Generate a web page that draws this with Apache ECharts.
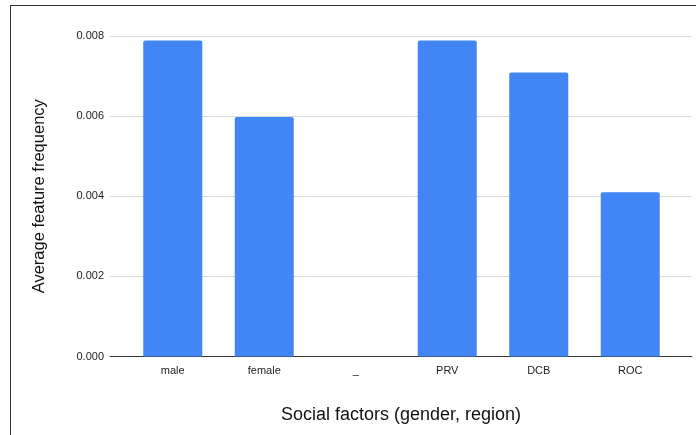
<!DOCTYPE html>
<html>
<head>
<meta charset="utf-8">
<script src="https://cdn.jsdelivr.net/npm/echarts@6/dist/echarts.min.js"></script>
<style>
  html, body { margin: 0; padding: 0; background: #fff; }
  #wrap { position: relative; width: 696px; height: 435px; overflow: hidden; }
  #frame { position: absolute; left: 10px; top: 5px; width: 700px; height: 450px;
           border-left: 1px solid #333; border-top: 1px solid #333; box-sizing: border-box; }
  #chart { position: absolute; left: 0; top: 0; width: 696px; height: 435px; }
</style>
</head>
<body>
<div id="wrap">
  <div id="frame"></div>
  <div id="chart"></div>
</div>
<script>
// Average feature frequency per social factor (gender, then region)
const categories = ['male', 'female', '_', 'PRV', 'DCB', 'ROC'];
const frequencies = [0.00789, 0.00598, null, 0.00789, 0.00709, 0.00410];
const yTicks = [0, 0.002, 0.004, 0.006, 0.008];

const yMin = yTicks[0];
const yMax = yTicks[yTicks.length - 1];
const font = 'Arial, "Liberation Sans", sans-serif';

const chart = echarts.init(document.getElementById('chart'), null, { renderer: 'canvas' });
chart.setOption({
  animation: false,
  textStyle: { fontFamily: font },
  grid: [
    // outer grid: gridlines, y labels, baseline
    { left: 110, right: 4, top: 36, bottom: 78.5 },
    // inner grid: the bars and category labels
    { left: 127, right: 20, top: 36, bottom: 78.5 }
  ],
  xAxis: [
    {
      gridIndex: 0, type: 'value', min: 0, max: 1,
      axisLine: { show: true, onZero: false, lineStyle: { color: '#333', width: 1 } },
      axisTick: { show: false }, axisLabel: { show: false }, splitLine: { show: false },
      name: 'Social factors (gender, region)', nameLocation: 'middle', nameGap: 50,
      nameTextStyle: { fontSize: 18, color: '#111', fontFamily: font }
    },
    {
      gridIndex: 1, type: 'category', data: categories,
      axisLine: { show: false }, axisTick: { show: false },
      axisLabel: { fontSize: 11, color: '#222', margin: 9, fontFamily: font }
    }
  ],
  yAxis: [
    {
      gridIndex: 0, type: 'value', min: yMin, max: yMax, interval: 0.002,
      axisLine: { show: false }, axisTick: { show: false },
      axisLabel: { fontSize: 11, color: '#222', margin: 6, fontFamily: font,
                   formatter: v => v.toFixed(3) },
      splitLine: { lineStyle: { color: '#d9d9d9', width: 1 } },
      name: 'Average feature frequency', nameLocation: 'middle', nameGap: 62,
      nameRotate: 90,
      nameTextStyle: { fontSize: 16.5, color: '#111', fontFamily: font }
    },
    {
      gridIndex: 1, type: 'value', min: yMin, max: yMax, interval: 0.002,
      show: false, splitLine: { show: false }
    }
  ],
  series: [{
    type: 'bar',
    xAxisIndex: 1, yAxisIndex: 1,
    data: frequencies,
    barWidth: 59,
    itemStyle: { color: '#4285f4', borderRadius: [2, 2, 0, 0] }
  }]
});
</script>
</body>
</html>
